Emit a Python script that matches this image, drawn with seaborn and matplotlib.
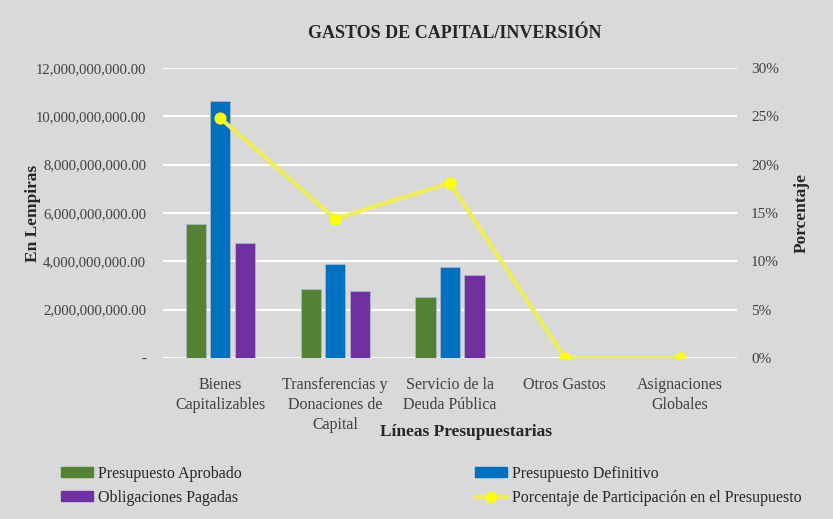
import matplotlib.pyplot as plt
import matplotlib.ticker as mticker
from matplotlib.patches import Patch
from matplotlib.lines import Line2D
import numpy as np
import pandas as pd
import seaborn as sns

categorias = ["Bienes\nCapitalizables", "Transferencias y\nDonaciones de\nCapital",
              "Servicio de la\nDeuda Pública", "Otros Gastos", "Asignaciones\nGlobales"]
aprobado = [5.55e9, 2.86e9, 2.52e9, 0, 0]
definitivo = [10.63e9, 3.90e9, 3.78e9, 0, 0]
pagadas = [4.76e9, 2.78e9, 3.44e9, 0, 0]
porcentaje = [24.8, 14.4, 18.1, 0, 0]

series = ["Presupuesto Aprobado", "Presupuesto Definitivo", "Obligaciones Pagadas"]
colores = ["#548235", "#0070C0", "#7030A0"]
bg = "#D9D9D9"
linea = "#EEEE55"

sns.set_style("white")
plt.rcParams["font.family"] = ["Liberation Serif", "DejaVu Serif"]

df = pd.DataFrame({
    "Categoria": categorias * 3,
    "Serie": [series[0]] * 5 + [series[1]] * 5 + [series[2]] * 5,
    "Monto": aprobado + definitivo + pagadas,
})

fig = plt.figure(figsize=(8.33, 5.19), dpi=100, facecolor=bg)
ax = fig.add_axes([163 / 833, 1 - 358 / 519, 574 / 833, 290 / 519])
ax.set_facecolor(bg)

sns.barplot(data=df, x="Categoria", y="Monto", hue="Serie", palette=colores,
            saturation=1, width=0.64, gap=0.18, ax=ax, legend=False,
            edgecolor="#A9B8C8", linewidth=0.6)

ax.set_ylim(0, 12e9)
ax.set_xlim(-0.5, 4.5)
ax.yaxis.set_major_locator(mticker.MultipleLocator(2e9))
ax.yaxis.set_major_formatter(mticker.FuncFormatter(
    lambda v, p: "-" if v == 0 else f"{v:,.2f}"))
ax.grid(axis="y", color="white", linewidth=1.5)
ax.set_axisbelow(True)
for s in ax.spines.values():
    s.set_visible(False)
ax.tick_params(axis="y", length=0, labelsize=10.6, colors="#404040", pad=12)
ax.tick_params(axis="x", length=0, labelsize=11.5, colors="#404040", pad=13.5)
for t in ax.get_xticklabels():
    t.set_linespacing(1.35)
ax.set_ylabel("En Lempiras", fontsize=12.5, fontweight="bold")
ax.yaxis.set_label_coords((41 - 163) / 574, 0.5)
ax.set_xlabel("Líneas Presupuestarias", fontsize=12.5, fontweight="bold")
ax.xaxis.set_label_coords((466 - 163) / 574, -(424 - 358) / 290)

ax2 = ax.twinx()
sns.lineplot(x=np.arange(len(categorias)), y=porcentaje, ax=ax2,
             color=linea, linewidth=3, marker="o", markersize=8,
             markerfacecolor="#FFFF00", markeredgecolor="#FFFF00")
ax2.set_ylim(0, 30)
ax2.yaxis.set_major_locator(mticker.MultipleLocator(5))
ax2.yaxis.set_major_formatter(mticker.FuncFormatter(lambda v, p: f"{v:.0f}%"))
for s in ax2.spines.values():
    s.set_visible(False)
ax2.tick_params(axis="y", length=0, labelsize=11, colors="#404040", pad=10)
ax2.set_ylabel("Porcentaje", fontsize=12.5, fontweight="bold")
ax2.yaxis.set_label_coords((794 - 163) / 574, 0.5)

fig.text(455 / 833, 1 - 34 / 519, "GASTOS DE CAPITAL/INVERSIÓN", ha="center", va="center",
         fontsize=13, fontweight="bold")

handles = [
    Patch(color=colores[0], label=series[0]),
    Patch(color=colores[2], label=series[2]),
    Patch(color=colores[1], label=series[1]),
    Line2D([], [], color=linea, linewidth=3, marker="o", markersize=7,
           markerfacecolor="#FFFF00", markeredgecolor="#FFFF00",
           label="Porcentaje de Participación en el Presupuesto"),
]
fig.legend(handles=handles, ncol=2, loc="center left", bbox_to_anchor=(47 / 833, 1 - 486 / 519),
           frameon=False, fontsize=11.5, handlelength=2.0, handleheight=0.6,
           handletextpad=0.3, columnspacing=14.6, labelspacing=0.5)

fig.savefig("out.png", dpi=100, facecolor=bg)
